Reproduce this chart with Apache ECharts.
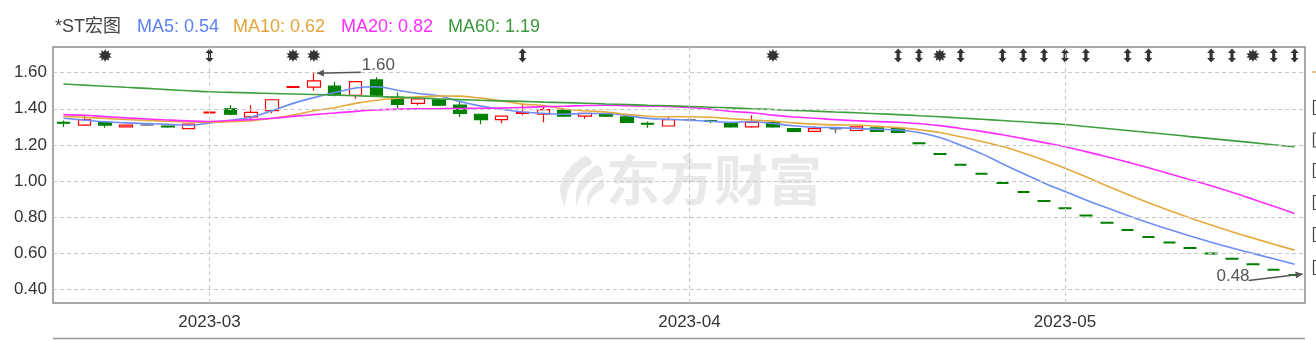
<!DOCTYPE html>
<html><head><meta charset="utf-8">
<script src="https://cdn.jsdelivr.net/npm/echarts@6/dist/echarts.min.js"></script>
<style>html,body{margin:0;padding:0;background:#fff}#c{width:1316px;height:340px}</style>
</head><body><div id="c"></div>
<script>
const stockName = '*ST宏图';
const dates = [
 '2023-02-20','2023-02-21','2023-02-22','2023-02-23','2023-02-24','2023-02-27','2023-02-28',
 '2023-03-01','2023-03-02','2023-03-03','2023-03-06','2023-03-07','2023-03-08','2023-03-09','2023-03-10',
 '2023-03-13','2023-03-14','2023-03-15','2023-03-16','2023-03-17','2023-03-20','2023-03-21','2023-03-22',
 '2023-03-23','2023-03-24','2023-03-27','2023-03-28','2023-03-29','2023-03-30','2023-03-31',
 '2023-04-03','2023-04-04','2023-04-06','2023-04-07','2023-04-10','2023-04-11','2023-04-12','2023-04-13',
 '2023-04-14','2023-04-17','2023-04-18','2023-04-19','2023-04-20','2023-04-21','2023-04-24','2023-04-25',
 '2023-04-26','2023-04-27',
 '2023-05-04','2023-05-05','2023-05-08','2023-05-09','2023-05-10','2023-05-11','2023-05-12','2023-05-15',
 '2023-05-16','2023-05-17','2023-05-18','2023-05-19'
];
const opens = [1.325,1.31,1.325,1.30,1.31,1.305,1.29,1.38,1.40,1.355,1.39,1.52,1.52,1.525,1.475,1.56,1.465,1.43,1.45,1.42,
 1.37,1.34,1.375,1.37,1.395,1.36,1.37,1.355,1.32,1.305,1.34,1.335,1.32,1.30,1.325,1.29,1.275,1.29,1.28,1.295,1.29,
 1.21,1.15,1.09,1.04,0.99,0.94,0.89,0.85,0.81,0.77,0.73,0.69,0.66,0.63,0.60,0.57,0.54,0.51,0.48];
const closes = [1.32,1.34,1.31,1.31,1.31,1.30,1.315,1.38,1.37,1.38,1.45,1.52,1.555,1.475,1.55,1.475,1.425,1.455,1.42,1.375,
 1.34,1.36,1.38,1.395,1.36,1.375,1.36,1.325,1.315,1.34,1.34,1.33,1.30,1.325,1.30,1.275,1.29,1.29,1.30,1.275,1.27,
 1.21,1.15,1.09,1.04,0.99,0.94,0.89,0.85,0.81,0.77,0.73,0.69,0.66,0.63,0.60,0.57,0.54,0.51,0.48];
const lows = [1.30,1.305,1.295,1.30,1.305,1.295,1.29,1.38,1.365,1.33,1.375,1.52,1.50,1.47,1.455,1.47,1.405,1.42,1.415,1.355,
 1.315,1.32,1.365,1.325,1.355,1.345,1.355,1.325,1.295,1.305,1.33,1.32,1.295,1.295,1.295,1.27,1.27,1.265,1.28,1.275,1.265,
 1.21,1.15,1.09,1.04,0.99,0.94,0.89,0.85,0.81,0.77,0.73,0.69,0.66,0.63,0.60,0.57,0.54,0.51,0.48];
const highs = [1.335,1.36,1.33,1.31,1.315,1.305,1.315,1.38,1.42,1.42,1.45,1.52,1.60,1.55,1.55,1.575,1.49,1.46,1.455,1.44,
 1.37,1.36,1.42,1.41,1.395,1.375,1.37,1.355,1.33,1.36,1.35,1.34,1.32,1.365,1.325,1.29,1.305,1.295,1.30,1.295,1.29,
 1.21,1.15,1.09,1.04,0.99,0.94,0.89,0.85,0.81,0.77,0.73,0.69,0.66,0.63,0.60,0.57,0.54,0.51,0.48];
const ma5 = [1.348,1.338,1.328,1.322,1.318,1.314,1.309,1.322,1.336,1.355,1.390,1.430,1.462,1.490,1.515,1.522,1.503,1.485,1.472,1.440,
 1.415,1.398,1.382,1.375,1.370,1.374,1.374,1.363,1.347,1.342,1.337,1.331,1.326,1.328,1.319,1.306,1.298,1.296,1.291,1.286,
 1.283,1.269,1.241,1.199,1.152,1.096,1.042,0.990,0.942,0.896,0.852,0.810,0.770,0.732,0.696,0.662,0.630,0.600,0.570,0.540];
const ma10 = [1.358,1.353,1.347,1.341,1.336,1.331,1.327,1.326,1.329,1.334,1.347,1.365,1.389,1.406,1.430,1.447,1.458,1.466,1.471,1.470,
 1.459,1.443,1.426,1.418,1.399,1.389,1.382,1.369,1.359,1.356,1.356,1.353,1.345,1.338,1.332,1.322,1.315,1.311,1.310,1.303,
 1.296,1.284,1.269,1.245,1.219,1.191,1.156,1.116,1.071,1.024,0.974,0.926,0.880,0.837,0.796,0.757,0.720,0.685,0.651,0.618];
const ma20 = [1.368,1.364,1.357,1.350,1.344,1.338,1.333,1.330,1.335,1.340,1.348,1.358,1.368,1.377,1.386,1.393,1.398,1.400,1.401,1.402,
 1.403,1.404,1.407,1.412,1.414,1.418,1.420,1.417,1.415,1.413,1.407,1.398,1.385,1.378,1.365,1.355,1.348,1.340,1.334,1.329,
 1.326,1.318,1.307,1.291,1.275,1.256,1.235,1.213,1.190,1.163,1.135,1.105,1.074,1.041,1.008,0.974,0.938,0.900,0.861,0.821];
const ma60 = [1.537,1.531,1.525,1.519,1.513,1.506,1.500,1.494,1.491,1.488,1.485,1.482,1.479,1.476,1.472,1.468,1.464,1.460,1.455,1.451,
 1.447,1.444,1.441,1.437,1.434,1.431,1.427,1.424,1.420,1.417,1.413,1.409,1.405,1.400,1.396,1.391,1.387,1.382,1.378,1.373,
 1.368,1.362,1.356,1.349,1.342,1.335,1.328,1.321,1.313,1.302,1.291,1.280,1.269,1.258,1.246,1.235,1.224,1.213,1.201,1.190];
const yTicks = [0.40,0.60,0.80,1.00,1.20,1.40,1.60];
const starEvents = ['2023-02-22','2023-03-07','2023-03-08','2023-04-10','2023-04-20','2023-05-17'];
const arrowEvents = ['2023-03-01','2023-03-22','2023-04-18','2023-04-19','2023-04-21','2023-04-25','2023-04-26',
 '2023-04-27','2023-05-04','2023-05-05','2023-05-09','2023-05-10','2023-05-15','2023-05-16','2023-05-18','2023-05-19'];

const C_UP = '#ff0000', C_DN = '#008000', C_FLAT = '#777777';
const MA_COLORS = ['#6c8df6', '#e6a93c', '#ff2eff', '#3f9f3f'];
const FONT = 'Arial, "Liberation Sans", "Noto Sans CJK SC", sans-serif';
const Y_MIN = 0.3255, Y_MAX = 1.742;

const monthStartIdx = dates.map((d, i) => i > 0 && d.slice(0, 7) !== dates[i - 1].slice(0, 7));
const candleData = dates.map((d, i) => {
  const o = opens[i], c = closes[i];
  const item = { value: [o, c, lows[i], highs[i]] };
  if (o === c) {
    item.itemStyle = { borderWidth: 2 };
    if (i > 0 && closes[i - 1] === c) {
      Object.assign(item.itemStyle, { color: C_FLAT, color0: C_FLAT, borderColor: C_FLAT, borderColor0: C_FLAT, borderWidth: 1.5 });
    }
  }
  return item;
});

function starPath(n, R, r) {
  let d = '';
  for (let k = 0; k < 2 * n; k++) {
    const a = k * Math.PI / n - Math.PI / 2, rad = k % 2 ? r : R;
    d += (k ? 'L' : 'M') + (R + rad * Math.cos(a)).toFixed(2) + ',' + (R + rad * Math.sin(a)).toFixed(2);
  }
  return 'path://' + d + 'Z';
}
const STAR = starPath(10, 10, 6.2);
const UPDOWN = 'path://M4,0 L8,4.6 L5.6,4.6 L5.6,9.4 L8,9.4 L4,14 L0,9.4 L2.4,9.4 L2.4,4.6 L0,4.6 Z';
const markerY = Y_MAX - 0.047;

const chart = echarts.init(document.getElementById('c'));
const maNames = ['MA5', 'MA10', 'MA20', 'MA60'];
const maData = [ma5, ma10, ma20, ma60];
chart.setOption({
  animation: false,
  backgroundColor: '#fff',
  grid: { left: 53, right: 11, top: 47, bottom: 37, show: true, borderColor: '#8c8c8c', borderWidth: 1.5, backgroundColor: 'transparent' },
  xAxis: {
    type: 'category', data: dates, boundaryGap: true,
    axisLine: { show: false }, axisTick: { show: false }, splitLine: { show: false },
    axisLabel: { interval: (i) => monthStartIdx[i], formatter: v => v.slice(0, 7), color: '#333', fontSize: 17, fontFamily: FONT, margin: 11 }
  },
  yAxis: {
    type: 'value', min: Y_MIN, max: Y_MAX, scale: true,
    axisLine: { show: false }, axisTick: { show: false }, splitLine: { show: false },
    axisLabel: { customValues: yTicks, formatter: v => v.toFixed(2), color: '#333', fontSize: 17, fontFamily: FONT, margin: 6 }
  },
  series: [
    {
      type: 'line', data: dates.map(() => null), z: 1, silent: true, showSymbol: false,
      markLine: {
        silent: true, symbol: ['none', 'none'], label: { show: false }, animation: false,
        lineStyle: { color: '#c8c8c8', type: [4, 3], width: 1 },
        data: [...yTicks.map(v => ({ yAxis: v })), ...dates.filter((d, i) => monthStartIdx[i]).map(d => ({ xAxis: d }))]
      }
    },
    {
      type: 'candlestick', data: candleData, barWidth: 13, z: 2,
      itemStyle: { color: '#ffffff', color0: C_DN, borderColor: C_UP, borderColor0: C_DN, borderWidth: 1.2 }
    },
    ...maData.map((arr, k) => ({
      type: 'line', name: maNames[k], data: arr, showSymbol: false, smooth: 0.4, z: 3,
      lineStyle: { color: MA_COLORS[k], width: 1.6 }, silent: true
    })),
    {
      type: 'scatter', data: starEvents.map(d => [d, markerY]), symbol: STAR, symbolSize: 13, z: 4,
      itemStyle: { color: '#000' }, silent: true
    },
    {
      type: 'scatter', data: arrowEvents.map(d => [d, markerY]), symbol: UPDOWN, symbolSize: [8, 14], z: 4,
      itemStyle: { color: '#000' }, silent: true
    }
  ]
});

// annotations and decorations
const hiIdx = highs.indexOf(Math.max(...highs));
const loIdx = lows.lastIndexOf(Math.min(...lows));
const hp = chart.convertToPixel({ gridIndex: 0 }, [hiIdx, highs[hiIdx]]);
const lp = chart.convertToPixel({ gridIndex: 0 }, [loIdx, lows[loIdx]]);
function arrow(tail, tip, color) {
  const dx = tip[0] - tail[0], dy = tip[1] - tail[1], L = Math.hypot(dx, dy);
  const ux = dx / L, uy = dy / L, px = -uy, py = ux;
  const b = [tip[0] - 7 * ux, tip[1] - 7 * uy];
  return [
    { type: 'line', shape: { x1: tail[0], y1: tail[1], x2: tip[0], y2: tip[1] }, style: { stroke: color, lineWidth: 1.5 }, silent: true, z: 20 },
    { type: 'polygon', shape: { points: [tip, [b[0] + 3.5 * px, b[1] + 3.5 * py], [b[0] - 3.5 * px, b[1] - 3.5 * py]] }, style: { fill: color }, silent: true, z: 20 }
  ];
}
const lastMA = maData.map(a => a[a.length - 1].toFixed(2));
const titleItems = [
  { t: stockName, c: '#444', x: 55 },
  { t: 'MA5: ' + lastMA[0], c: '#5b80f7', x: 137 },
  { t: 'MA10: ' + lastMA[1], c: '#e3a43a', x: 233 },
  { t: 'MA20: ' + lastMA[2], c: '#ff2eff', x: 341 },
  { t: 'MA60: ' + lastMA[3], c: '#3a973a', x: 448 }
];
const logoPolys = [
  [[30,0],[20,6],[12,14],[6,24],[4,34],[6,44],[9,50],[10,42],[13,32],[19,22],[27,13],[36,7]],
  [[42,9],[33,15],[25,24],[21,33],[20,42],[21,50],[23,42],[27,34],[33,27],[40,22],[47,19]],
  [[47,23],[40,28],[34,35],[31,43],[32,50],[35,43],[40,37],[48,31]]
];
const graphics = [
  ...titleItems.map(it => ({ type: 'text', x: it.x, y: 27, style: { text: it.t, fill: it.c, font: '18px ' + FONT, textVerticalAlign: 'middle' }, z: 20 })),
  // watermark
  { type: 'text', x: 606, y: 180, style: { text: '东方财富', fill: '#e9e9e9', font: 'bold 54px "Noto Sans CJK SC"', textVerticalAlign: 'middle' }, z: 0, silent: true },
  ...logoPolys.map(p => ({ type: 'polygon', x: 556, y: 156, shape: { points: p, smooth: 0.3 }, style: { fill: '#e9e9e9' }, z: 0, silent: true })),
  // max annotation
  ...arrow([hp[0] + 47, hp[1] - 0.5], [hp[0] + 3, hp[1] + 0.5], '#555'),
  { type: 'text', x: hp[0] + 48, y: hp[1] + 1.5, style: { text: highs[hiIdx].toFixed(2), fill: '#555', font: '17px ' + FONT, textVerticalAlign: 'bottom' }, z: 20, silent: true },
  // min annotation
  ...arrow([lp[0] - 46, lp[1] + 5.5], [lp[0] + 8, lp[1] - 1], '#555'),
  { type: 'text', x: lp[0] - 45, y: lp[1] + 1, style: { text: lows[loIdx].toFixed(2), fill: '#555', font: '17px ' + FONT, textAlign: 'right', textVerticalAlign: 'middle' }, z: 20, silent: true },
  // bottom separator
  { type: 'line', shape: { x1: 53, y1: 338.5, x2: 1305, y2: 338.5 }, style: { stroke: '#999', lineWidth: 1.5 }, silent: true },
  // clipped side elements at the right edge
  { type: 'line', shape: { x1: 1312, y1: 72, x2: 1318, y2: 72 }, style: { stroke: '#e0b070', lineWidth: 1.5 }, silent: true },
  ...[100, 132.5, 163, 195, 227, 260].map(y => ({ type: 'rect', shape: { x: 1313.5, y: y + 0.5, width: 12, height: 14 }, style: { fill: 'none', stroke: '#444', lineWidth: 1.2 }, silent: true }))
];
chart.setOption({ graphic: graphics });
</script></body></html>
